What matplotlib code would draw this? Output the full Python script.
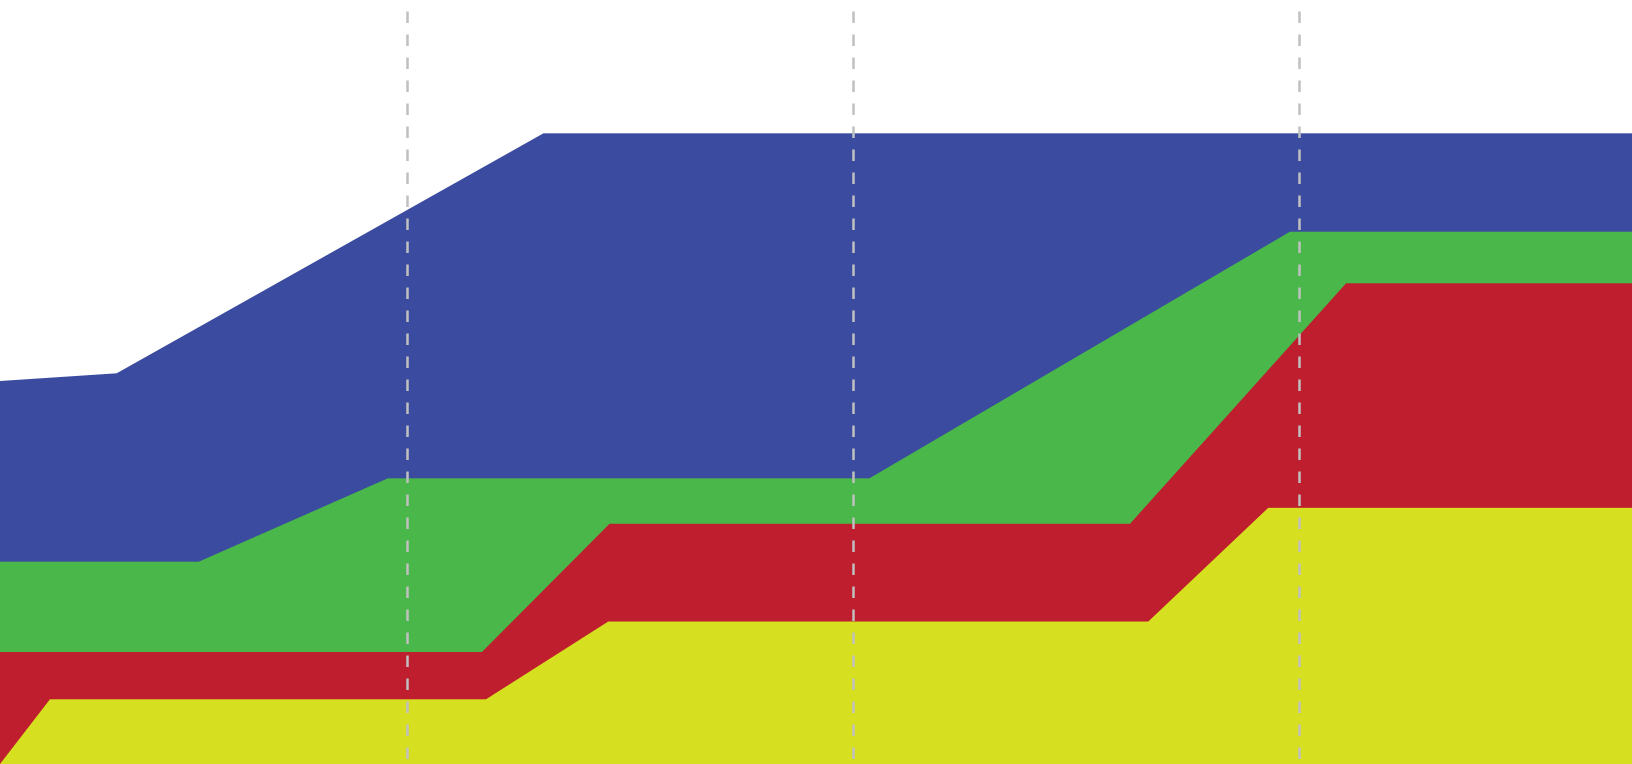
import matplotlib
matplotlib.use("Agg")
import matplotlib.pyplot as plt

# Series (x in % of width, y in % of height)
blue_x = [0, 7.15, 33.30, 100]
blue_y = [50.13, 51.14, 82.55, 82.55]

green_x = [0, 12.18, 23.76, 53.27, 79.04, 100]
green_y = [26.48, 26.48, 37.39, 37.39, 69.67, 69.67]

red_x = [0, 29.53, 37.35, 69.24, 82.48, 100]
red_y = [14.66, 14.66, 31.44, 31.44, 62.92, 62.92]

yellow_x = [0, 3.06, 29.78, 37.27, 70.36, 77.71, 100]
yellow_y = [0, 8.47, 8.47, 18.65, 18.65, 33.53, 33.53]

marker_x = [24.92, 52.29, 79.61]
marker_top = 98.56

fig = plt.figure(figsize=(16.32, 7.64), dpi=100)
ax = fig.add_axes([0, 0, 1, 1])

ax.fill_between(blue_x, 0, blue_y, color="#3B4CA0", linewidth=0, zorder=1)
ax.fill_between(green_x, 0, green_y, color="#49B749", linewidth=0, zorder=2)
ax.fill_between(red_x, 0, red_y, color="#BE1E2D", linewidth=0, zorder=3)
ax.fill_between(yellow_x, 0, yellow_y, color="#D7DF21", linewidth=0, zorder=4)

for mx in marker_x:
    ax.plot([mx, mx], [marker_top, 0], color="#C0C0C0", linewidth=1.8,
            dashes=(4.6, 4.6), zorder=5, solid_capstyle="butt")

ax.set_xlim(0, 100)
ax.set_ylim(0, 100)
ax.axis("off")

fig.savefig("out.png", dpi=100)
